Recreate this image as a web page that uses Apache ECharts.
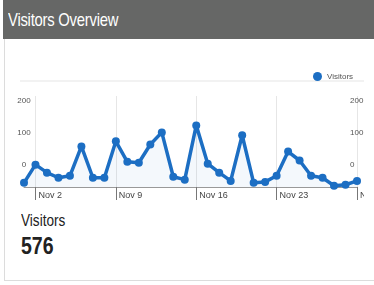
<!DOCTYPE html>
<html>
<head>
<meta charset="utf-8">
<script src="https://cdn.jsdelivr.net/npm/echarts@6/dist/echarts.min.js"></script>
<style>
    body { margin: 0; background: #fff; width: 374px; height: 285px; overflow: hidden; position: relative; font-family: "Liberation Sans", Arial, sans-serif; }
    #panel { position: absolute; left: 4px; top: 0; width: 372px; height: 280px; border-left: 1px solid #dcdcdc; border-bottom: 1px solid #dcdcdc; }
    #header { position: absolute; left: 3px; top: 0; width: 371px; height: 39px; background: #666766; }
    .narrow { position: absolute; transform-origin: 0 0; white-space: nowrap; }
    #header_text { left: 8px; top: 9px; color: #fff; font-size: 19px; transform: scaleX(0.78); letter-spacing: -0.3px; }
    #visitors_chart { position: absolute; left: 0; top: 40px; width: 364px; height: 166px; }
    #total_label { left: 21px; top: 211px; font-size: 17px; color: #222; transform: scaleX(0.8); }
    #total_value { left: 21px; top: 233px; font-size: 23px; font-weight: bold; color: #222; transform: scaleX(0.85); }
</style>
</head>
<body>
<div id="panel"></div>
<div id="header"></div>
<div id="header_text" class="narrow">Visitors Overview</div>
<div id="visitors_chart"></div>
<div id="total_label" class="narrow">Visitors</div>
<div id="total_value" class="narrow">576</div>
<script>
//日期 Nov 1 - Nov 30
var day_list = [];
for (var i = 1; i <= 30; i++) day_list.push("Nov " + i);

//访客数 (按图上刻度读取)
var visitor_list = [-57, 0, -25, -41, -35, 57, -41, -41, 73, 9,
                    6, 63, 101, -38, -47, 123, 3, -25, -51, 92,
                    -57, -54, -35, 41, 13, -35, -41, -66, -63, -51];
var y_ticks = [0, 100, 200];
var x_label_days = ["Nov 2", "Nov 9", "Nov 16", "Nov 23", "Nov 30"];

var visitors_echart = echarts.init(document.getElementById("visitors_chart"));

function showDay(index) {
    return x_label_days.indexOf(day_list[index]) >= 0;
}

function yAxisOpt(pos) {
    return {
        type: 'value',
        position: pos,
        min: -70,
        max: 215,
        axisLine: { show: false },
        axisTick: { show: false },
        splitLine: { show: false },
        axisLabel: {
            customValues: y_ticks,
            color: '#555',
            fontSize: 8,
            align: pos == 'left' ? 'center' : 'left',
            margin: pos == 'left' ? 0 : -7
        }
    };
}

var option = {
    animation: false,
    grid: { left: 24, right: 7, top: 56, bottom: 19, containLabel: false, outerBoundsMode: 'none' },
    legend: {
        left: 308,
        top: 27,
        data: ['Visitors'],
        icon: 'circle',
        itemWidth: 9,
        itemHeight: 9,
        itemGap: 5,
        textStyle: { color: '#555', fontSize: 8 }
    },
    graphic: [{
        type: 'line',
        shape: { x1: 20, y1: 41, x2: 364, y2: 41 },
        style: { stroke: '#eeeeee', lineWidth: 1.5 }
    }],
    xAxis: {
        type: 'category',
        data: day_list,
        boundaryGap: false,
        axisLine: { show: true, onZero: false, lineStyle: { color: '#999', width: 1 } },
        axisTick: { show: true, interval: showDay, length: 13, lineStyle: { color: '#777' } },
        splitLine: { show: true, interval: showDay, lineStyle: { color: '#e6e6e6' } },
        axisLabel: {
            interval: showDay,
            align: 'left',
            margin: 4,
            padding: [0, 0, 0, 3],
            color: '#444',
            fontSize: 9
        }
    },
    yAxis: [yAxisOpt('left'), yAxisOpt('right')],
    series: [{
        name: 'Visitors',
        type: 'line',
        data: visitor_list,
        symbol: 'circle',
        symbolSize: 8,
        showSymbol: true,
        showAllSymbol: true,
        color: '#1c6ec3',
        lineStyle: { width: 3.5, color: '#1c6ec3' },
        itemStyle: { color: '#1c6ec3' },
        areaStyle: { color: 'rgba(40,120,200,0.07)', origin: 'start' }
    }]
};
visitors_echart.setOption(option, true);
</script>
</body>
</html>
